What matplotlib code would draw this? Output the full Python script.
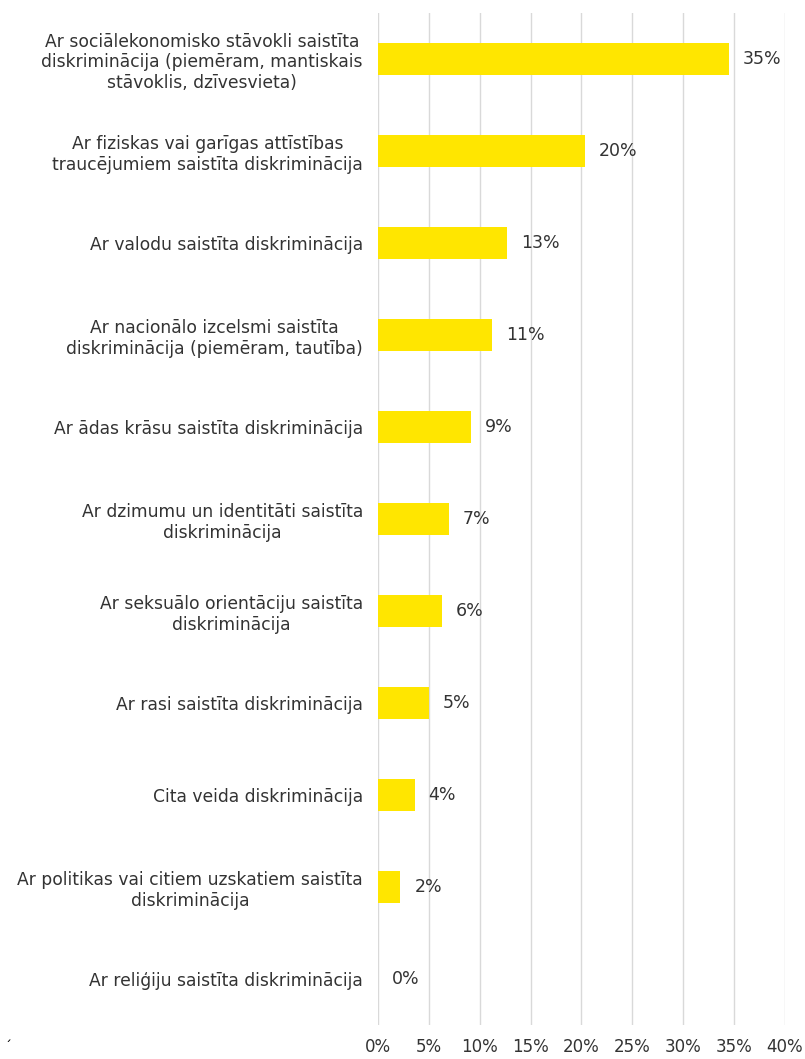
import matplotlib
matplotlib.use("Agg")
import matplotlib.pyplot as plt
from matplotlib.ticker import FuncFormatter, MultipleLocator

plt.rcParams["font.family"] = ["DejaVu Sans"]

categories = [
    "Ar sociālekonomisko stāvokli saistīta\ndiskriminācija (piemēram, mantiskais\nstāvoklis, dzīvesvieta)",
    "Ar fiziskas vai garīgas attīstības\ntraucējumiem saistīta diskriminācija",
    "Ar valodu saistīta diskriminācija",
    "Ar nacionālo izcelsmi saistīta\ndiskriminācija (piemēram, tautība)",
    "Ar ādas krāsu saistīta diskriminācija",
    "Ar dzimumu un identitāti saistīta\ndiskriminācija",
    "Ar seksuālo orientāciju saistīta\ndiskriminācija",
    "Ar rasi saistīta diskriminācija",
    "Cita veida diskriminācija",
    "Ar politikas vai citiem uzskatiem saistīta\ndiskriminācija",
    "Ar reliģiju saistīta diskriminācija",
]
values = [34.5, 20.3, 12.7, 11.2, 9.1, 7.0, 6.3, 5.0, 3.6, 2.2, 0.0]
value_labels = ["35%", "20%", "13%", "11%", "9%", "7%", "6%", "5%", "4%", "2%", "0%"]

BAR = "#FFE600"
TXT = "#333333"
GRID = "#D9D9D9"

fig = plt.figure(figsize=(8.05, 10.59), dpi=100)
ax = fig.add_axes([0.4696, 0.0321, 0.5054, 0.9556])

y = list(range(len(categories)))
ax.barh(y, values, height=0.35, color=BAR, zorder=3)
ax.set_ylim(len(categories) - 0.5, -0.5)
ax.set_xlim(0, 40)
ax.xaxis.set_major_locator(MultipleLocator(5))
ax.xaxis.set_major_formatter(FuncFormatter(lambda v, p: f"{int(round(v))}%"))
ax.grid(axis="x", color=GRID, linewidth=1.0, zorder=0)
ax.set_axisbelow(True)
for s in ax.spines.values():
    s.set_visible(False)
ax.set_yticks(y)
ax.set_yticklabels(categories, fontsize=12.3, color=TXT, multialignment="center",
                   linespacing=1.2)
ax.tick_params(axis="y", length=0, pad=11)
ax.tick_params(axis="x", length=0, pad=9, labelsize=12, labelcolor=TXT)

for yi, v, lab in zip(y, values, value_labels):
    ax.annotate(lab, xy=(v, yi), xytext=(10, 0), textcoords="offset points",
                va="center", ha="left", fontsize=12.5, color=TXT)

fig.text(0.006, 0.008, "´", fontsize=10, color="#000000")

fig.savefig("out.png", dpi=100, facecolor="white")
